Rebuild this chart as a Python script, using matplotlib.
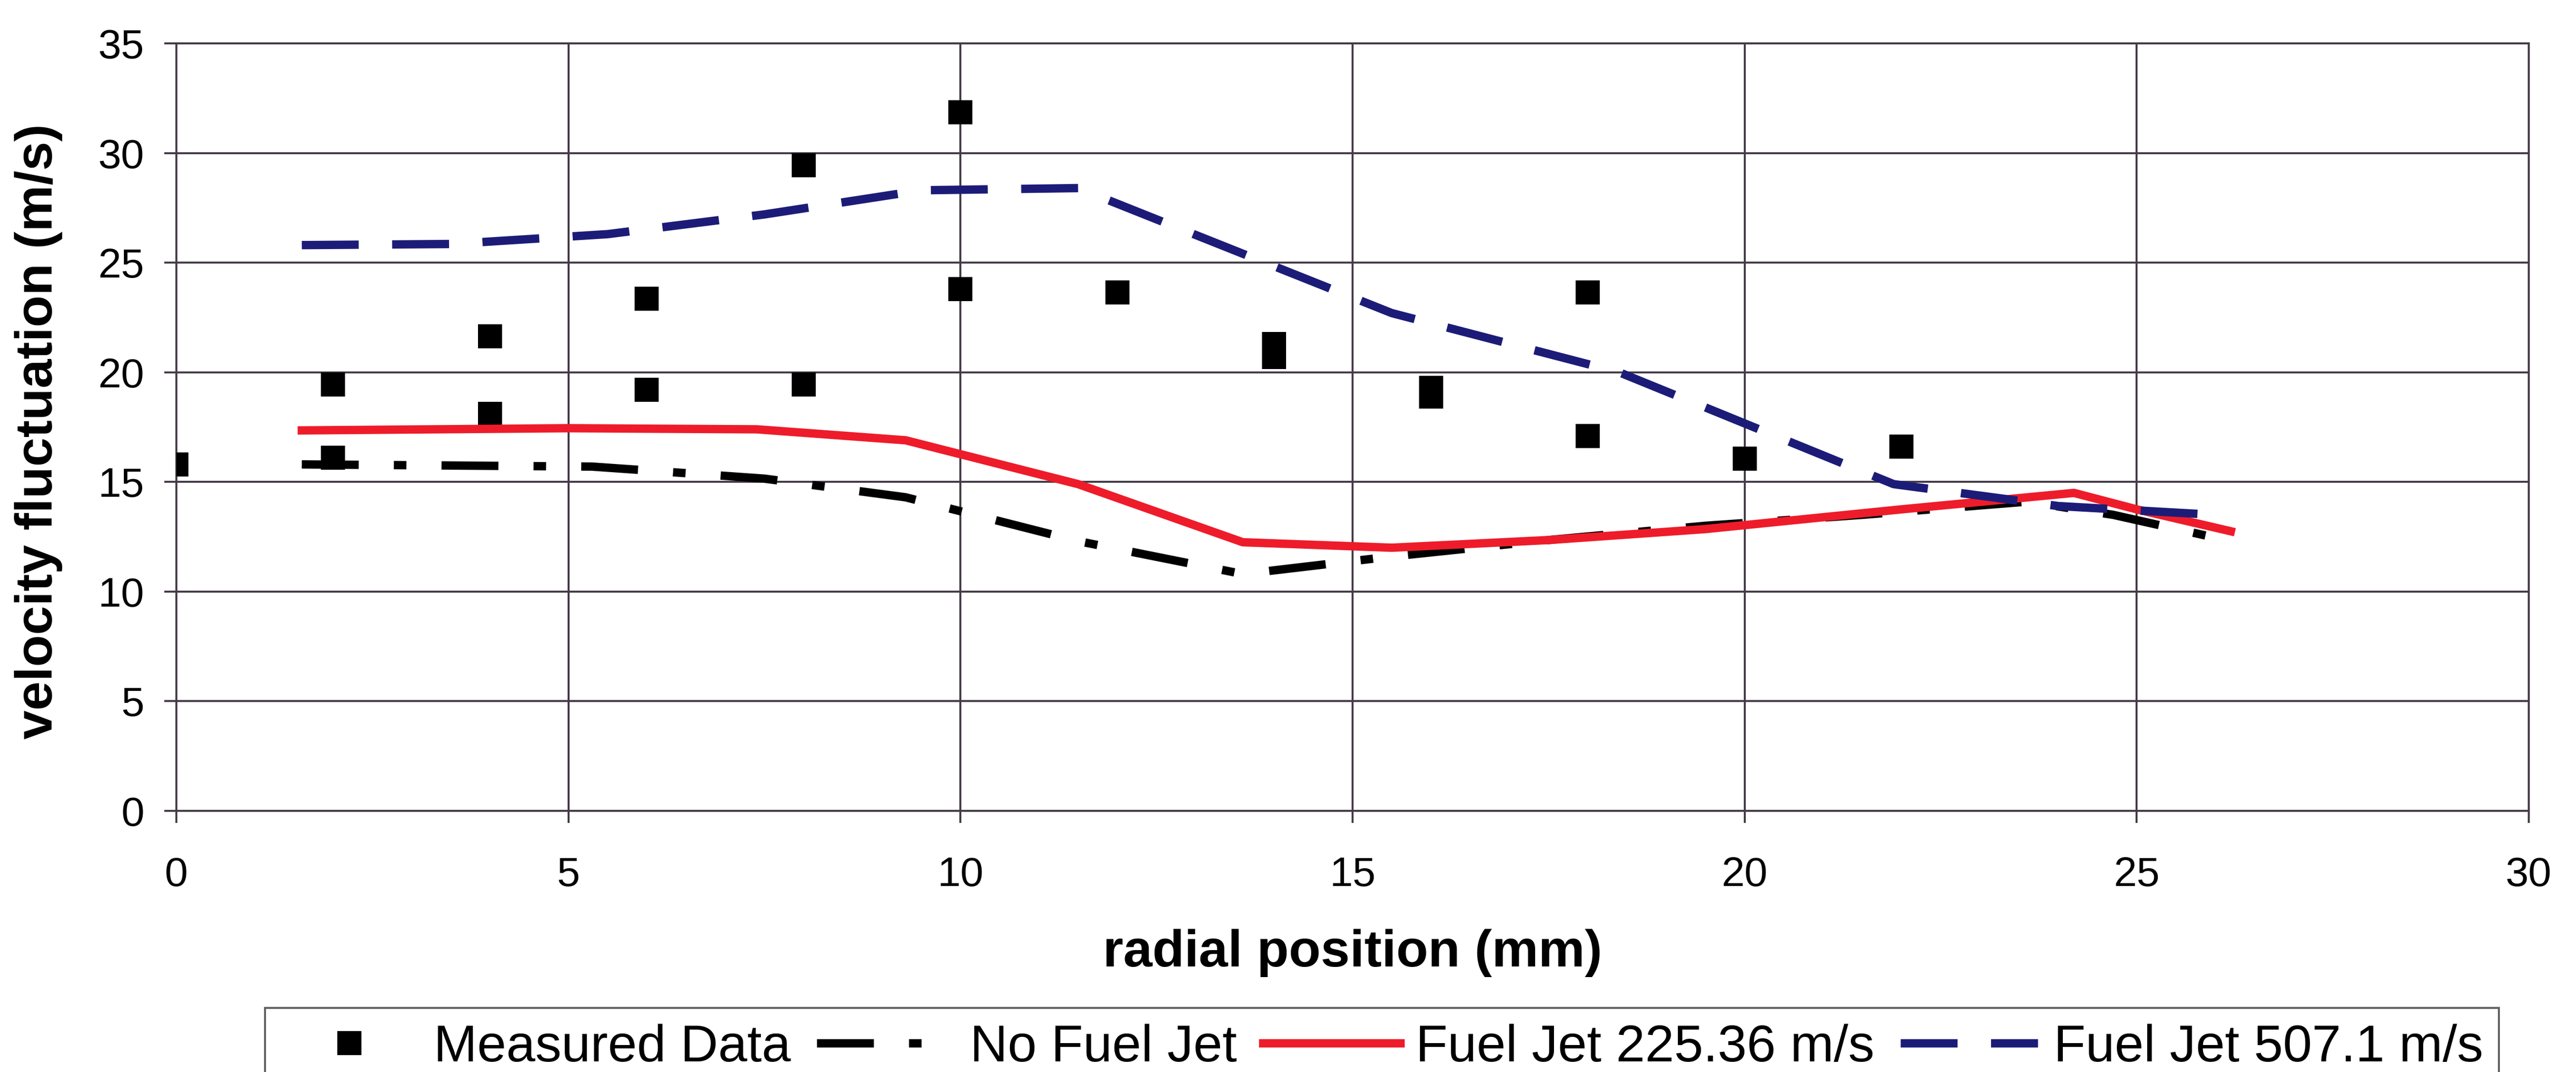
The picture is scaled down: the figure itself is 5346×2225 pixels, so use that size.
import matplotlib
matplotlib.use("Agg")
import matplotlib.pyplot as plt

plt.rcParams['font.family'] = ['Liberation Sans', 'DejaVu Sans']

# Measured velocity fluctuation at each radial position
measured_x = [0, 2, 2, 4, 4, 6, 6, 8, 8, 10, 10, 12, 14, 14, 16, 16, 18, 18, 20, 22]
measured_y = [15.8, 19.45, 16.1, 21.65, 18.1, 23.35, 19.2, 29.45, 19.45, 31.85,
              23.8, 23.65, 21.3, 20.7, 19.3, 18.9, 23.65, 17.1, 16.05, 16.6]

# Simulated profiles
nojet_x = [1.6, 5.3, 7.5, 9.3, 11.5, 13.6, 15.5, 17.5, 19.5, 21.5, 23.6, 24.7, 26.2]
nojet_y = [15.8, 15.7, 15.15, 14.3, 12.3, 10.8, 11.6, 12.35, 13.0, 13.5, 14.1, 13.5, 12.3]

jet225_x = [1.6, 5.0, 7.4, 9.3, 11.5, 13.6, 15.5, 17.5, 19.5, 22.0, 24.2, 25.0, 26.2]
jet225_y = [17.35, 17.45, 17.4, 16.9, 14.9, 12.25, 12.0, 12.35, 12.85, 13.75, 14.5, 13.75, 12.75]

jet507_x = [1.6, 3.5, 5.5, 7.5, 9.5, 11.5, 15.5, 18.4, 21.9, 24.0, 26.0]
jet507_y = [25.8, 25.85, 26.3, 27.2, 28.3, 28.4, 22.7, 20.0, 14.9, 13.9, 13.5]

labels = ["Measured Data", "No Fuel Jet", "Fuel Jet 225.36 m/s", "Fuel Jet 507.1 m/s"]
x_ticks = [0, 5, 10, 15, 20, 25, 30]
y_ticks = [0, 5, 10, 15, 20, 25, 30, 35]

W, H = 5346, 2225
fig = plt.figure(figsize=(W / 100, H / 100), dpi=100)
fig.patch.set_facecolor('white')

left, right, top, bottom = 366, 5248, 90, 1683
ax = fig.add_axes([left / W, 1 - bottom / H, (right - left) / W, (bottom - top) / H])

grid_color = '#453b47'
lw = 12.5

h_meas, = ax.plot(measured_x, measured_y, linestyle='none', marker='s',
                  markersize=36, color='black', markeredgewidth=0, zorder=3)
h_nojet, = ax.plot(nojet_x, nojet_y, color='black', lw=lw,
                   dashes=(6.8, 4.2, 1.5, 4.2), zorder=4)
h_225, = ax.plot(jet225_x, jet225_y, color='#ee1c2a', lw=lw, zorder=5)
h_507, = ax.plot(jet507_x, jet507_y, color='#1c1c78', lw=lw,
                 dashes=(6.8, 4.0), zorder=6)

ax.set_xlim(0, 30)
ax.set_ylim(0, 35)
ax.set_xticks(x_ticks)
ax.set_yticks(y_ticks)
ax.grid(True, color=grid_color, lw=3)
ax.set_axisbelow(True)
for sp in ax.spines.values():
    sp.set_color(grid_color)
    sp.set_linewidth(3)

ax.tick_params(axis='both', direction='out', length=18, width=3,
               color=grid_color, labelsize=62)
ax.tick_params(axis='x', pad=50)
ax.tick_params(axis='y', pad=30)

fig.text((left + right) / 2 / W, 1 - 1978 / H, "radial position (mm)",
         ha='center', va='center', fontsize=78, fontweight='bold')
fig.text(80 / W, 1 - 895 / H, "velocity fluctuation (m/s)",
         ha='center', va='center', rotation=90, fontsize=78, fontweight='bold')

leg = fig.legend([h_meas, h_nojet, h_225, h_507], labels, ncol=4,
                 loc='upper left', bbox_to_anchor=(550 / W, 1 - 2092 / H),
                 fontsize=78, frameon=True, fancybox=False, borderaxespad=0,
                 borderpad=0.3, handlelength=2.63, handletextpad=0.3,
                 columnspacing=0.5, markerscale=1.0)
leg.get_frame().set_edgecolor('#3a3a3a')
leg.get_frame().set_linewidth(3)

fig.savefig("out.png", dpi=100, facecolor='white')
